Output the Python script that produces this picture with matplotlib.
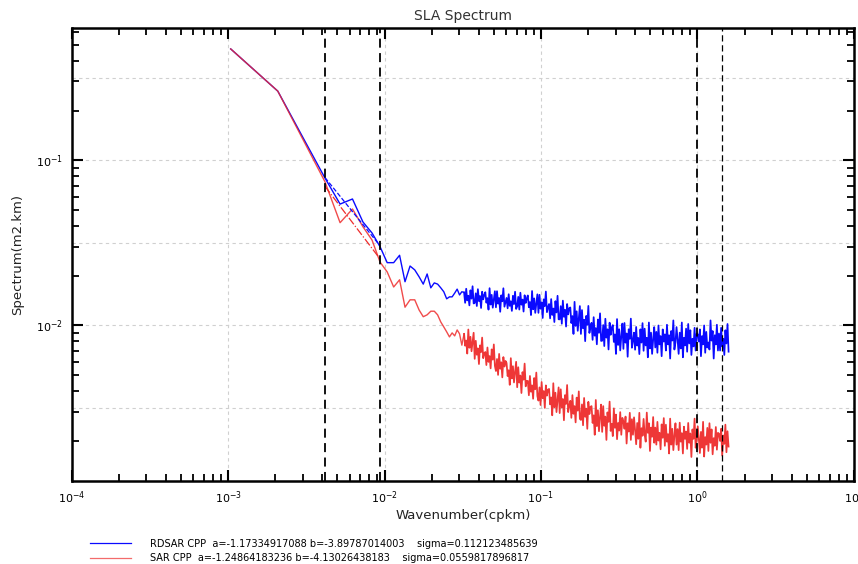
import numpy as np
import matplotlib
matplotlib.use("Agg")
import matplotlib.pyplot as plt
from matplotlib.ticker import LogLocator, NullFormatter
from matplotlib.lines import Line2D

# ---------------- data ----------------
df = 0.00104                      # wavenumber resolution (cpkm)
n_low = list(range(1, 31))        # first resolved bins
rdsar_low = [0.472, 0.262, 0.129, 0.0782, 0.0543, 0.0583, 0.0423, 0.0363, 0.0300, 0.0240,
             0.0240, 0.0266, 0.0184, 0.0229, 0.0217, 0.0197, 0.0178, 0.0205, 0.0169, 0.0181,
             0.0178, 0.0169, 0.0160, 0.0145, 0.0149, 0.0149, 0.0157, 0.0166, 0.0153, 0.0160]
sar_low = [0.472, 0.262, 0.1253, 0.0742, 0.0419, 0.0507, 0.0396, 0.0329, 0.0242, 0.0211,
           0.0171, 0.0189, 0.0129, 0.0143, 0.0143, 0.0124, 0.0113, 0.0116, 0.0122, 0.0122,
           0.0116, 0.0105, 0.0098, 0.00915, 0.00853, 0.00902, 0.00865, 0.0094, 0.0089, 0.0076]

# high wavenumbers, read on a log-spaced grid (values in 1e-5 m2.km)
k_hi_start, k_hi_end, n_hi = 0.03224, 1.58, 250
rdsar_hi_e5 = [
    1585, 1371, 1669, 1418, 1514, 1323, 1633, 1454, 1728, 1359,
    1369, 1566, 1311, 1659, 1404, 1508, 1276, 1601, 1438, 1531,
    1590, 1373, 1464, 1247, 1682, 1338, 1533, 1281, 1441, 1613,
    1288, 1613, 1355, 1467, 1210, 1523, 1400, 1680, 1299, 1378,
    1468, 1270, 1546, 1314, 1402, 1225, 1512, 1347, 1601, 1259,
    1303, 1490, 1248, 1579, 1336, 1435, 1214, 1524, 1369, 1457,
    1520, 1289, 1386, 1156, 1617, 1253, 1459, 1192, 1362, 1544,
    1192, 1534, 1263, 1381, 1110, 1440, 1310, 1605, 1204, 1286,
    1349, 1104, 1445, 1158, 1267, 1049, 1404, 1199, 1513, 1090,
    1089, 1310, 1024, 1414, 1128, 1245, 985, 1349, 1167, 1271,
    1285, 1034, 1140, 889, 1390, 994, 1219, 928, 1113, 1311,
    889, 1240, 962, 1083, 804, 1143, 1010, 1313, 901, 986,
    1038, 818, 1123, 867, 964, 769, 1087, 903, 1184, 806,
    809, 1006, 751, 1098, 844, 948, 716, 1040, 878, 971,
    1005, 795, 883, 673, 1093, 762, 949, 706, 861, 1027,
    722, 1035, 787, 895, 647, 949, 830, 1100, 733, 808,
    905, 713, 980, 756, 841, 671, 948, 788, 1033, 703,
    957, 757, 842, 642, 1042, 726, 905, 673, 821, 978,
    736, 915, 684, 1000, 768, 863, 652, 947, 799, 884,
    705, 1010, 768, 873, 631, 926, 810, 1073, 715, 789,
    978, 821, 673, 905, 726, 1042, 642, 842, 757, 957,
    694, 1021, 778, 936, 663, 831, 747, 968, 705, 894,
    884, 799, 947, 652, 863, 768, 1000, 684, 915, 736,
    789, 715, 1073, 810, 926, 631, 873, 768, 1010, 705,
    894, 705, 968, 747, 831, 663, 936, 778, 1021, 694]
sar_hi_e5 = [
    890, 754, 811, 676, 946, 733, 854, 698, 797, 904,
    628, 808, 665, 727, 584, 758, 690, 845, 634, 678,
    691, 576, 736, 602, 653, 550, 717, 621, 768, 570,
    530, 627, 502, 673, 547, 599, 485, 644, 564, 610,
    593, 494, 536, 437, 634, 478, 567, 452, 525, 603,
    423, 559, 451, 498, 390, 522, 470, 588, 428, 461,
    462, 378, 495, 397, 434, 360, 481, 411, 519, 374,
    351, 422, 330, 455, 363, 401, 317, 434, 376, 409,
    413, 333, 367, 286, 447, 320, 392, 299, 358, 422,
    295, 411, 319, 359, 267, 379, 335, 436, 299, 327,
    350, 276, 379, 292, 325, 259, 366, 305, 399, 272,
    268, 333, 249, 364, 280, 314, 237, 345, 291, 322,
    325, 257, 286, 218, 354, 246, 307, 229, 279, 332,
    227, 325, 247, 281, 203, 298, 261, 346, 230, 254,
    214, 315, 240, 289, 205, 257, 231, 299, 218, 276,
    262, 237, 281, 193, 256, 228, 296, 203, 271, 218,
    278, 233, 191, 257, 206, 296, 182, 239, 215, 272,
    218, 198, 297, 224, 256, 174, 241, 212, 279, 195,
    241, 190, 261, 201, 224, 178, 252, 209, 275, 187,
    251, 198, 220, 168, 273, 190, 237, 176, 215, 256,
    190, 236, 176, 258, 198, 223, 168, 244, 206, 228,
    179, 257, 195, 222, 160, 235, 206, 273, 182, 201,
    245, 206, 169, 227, 182, 261, 161, 211, 190, 240,
    174, 256, 195, 235, 166, 208, 187, 243, 177, 224,
    221, 200, 237, 163, 216, 192, 251, 171, 229, 185]

series_names = ["RDSAR CPP", "SAR CPP"]
fit_a = [-1.17334917088, -1.24864183236]
fit_b = [-3.89787014003, -4.13026438183]
fit_sigma = [0.112123485639, 0.0559817896817]
fit_bins = [4, 9]
ref_lines = [4 * df, 9 * df, 1.0, 1.43]
x_grid = [1e-3, 1e-2, 1e-1, 1.0]
y_grid = [10 ** -0.5, 1e-1, 10 ** -1.5, 1e-2, 10 ** -2.5]

# ---------------- assemble ----------------
k_low = np.array(n_low) * df
k_hi = np.geomspace(k_hi_start, k_hi_end, n_hi)
rd_hi = np.array(rdsar_hi_e5) * 1e-5
sa_hi = np.array(sar_hi_e5) * 1e-5

blue = "#0a0aff"
red = "#ee2c2c"

fig = plt.figure(figsize=(8.58, 5.64), dpi=100)
ax = fig.add_axes([0.0834, 0.1472, 0.9119, 0.8032])
ax.set_xscale("log")
ax.set_yscale("log")

for xg in x_grid:
    ax.axvline(xg, color="#d0d0d0", ls=(0, (3, 3)), lw=0.8, zorder=0)
for yg in y_grid:
    ax.axhline(yg, color="#d0d0d0", ls=(0, (3, 3)), lw=0.8, zorder=0)

# low-wavenumber part and the dense high-wavenumber part (joined at the first grid point)
ax.plot(np.append(k_low, k_hi[0]), np.append(rdsar_low, rd_hi[0]), color=blue, lw=1.0, zorder=3)
ax.plot(k_hi, rd_hi, color=blue, lw=1.25, zorder=3)
ax.plot(np.append(k_low, k_hi[0]), np.append(sar_low, sa_hi[0]), color=red, lw=1.0, alpha=0.85, zorder=4)
ax.plot(k_hi, sa_hi, color=red, lw=1.25, alpha=0.95, zorder=4)

kf = np.array(fit_bins) * df
for a, b, c, ls in zip(fit_a, fit_b, [blue, red], ["--", "-."]):
    ax.plot(kf, 10 ** (a * np.log10(kf) + b), color=c, ls=ls, lw=0.9, zorder=5)

for i, xr in enumerate(ref_lines):
    ax.axvline(xr, color="black", ls=(0, (5, 3)), lw=1.3 if i < 3 else 0.9, zorder=6)

ax.set_xlim(1e-4, 10)
ax.set_ylim(0.001145, 0.632)

ax.xaxis.set_major_locator(LogLocator(base=10, numticks=12))
ax.xaxis.set_minor_locator(LogLocator(base=10, subs=np.arange(2, 10), numticks=12))
ax.yaxis.set_major_locator(LogLocator(base=10, numticks=12))
ax.yaxis.set_minor_locator(LogLocator(base=10, subs=np.arange(2, 10), numticks=12))
ax.xaxis.set_minor_formatter(NullFormatter())
ax.yaxis.set_minor_formatter(NullFormatter())
ax.tick_params(which="both", direction="in", top=True, right=True, labelsize=8, pad=6)
ax.tick_params(which="major", length=8, width=1.5)
ax.tick_params(which="minor", length=5, width=1.3)
for s in ax.spines.values():
    s.set_linewidth(1.8)

ax.set_title("SLA Spectrum", fontsize=10, color="#333333", pad=6)
ax.set_xlabel("Wavenumber(cpkm)", fontsize=9.5, color="#222222", labelpad=2)
ax.set_ylabel("Spectrum(m2.km)", fontsize=9.5, color="#222222", labelpad=9)

handles = [Line2D([], [], color=blue, lw=0.9), Line2D([], [], color=red, lw=0.9, alpha=0.7)]
labels = [f"{nm}  a={a} b={b}    sigma={s}" for nm, a, b, s in zip(series_names, fit_a, fit_b, fit_sigma)]
fig.legend(handles, labels, loc="upper left", bbox_to_anchor=(81 / 858, 1 - 530 / 564),
           frameon=False, fontsize=7, handlelength=4.2, handletextpad=2.0, labelspacing=0.45)

fig.savefig("out.png", dpi=100)
